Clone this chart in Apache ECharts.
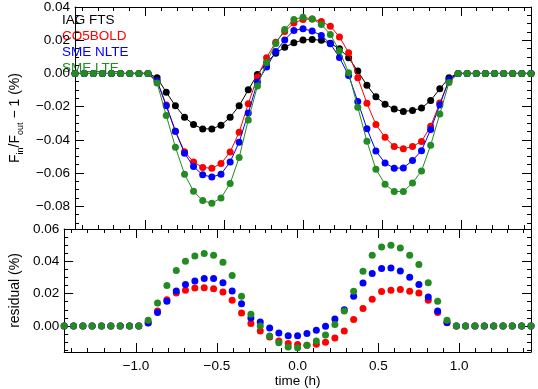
<!DOCTYPE html>
<html>
<head>
<meta charset="utf-8">
<script src="https://cdn.jsdelivr.net/npm/echarts@6/dist/echarts.min.js"></script>
<style>
  html, body { margin: 0; padding: 0; background: #fff; }
  #chart { width: 538px; height: 389px; }
</style>
</head>
<body>
<div id="chart"></div>
<script>
// time points (h)
const time = [-1.445, -1.387, -1.329, -1.272, -1.214, -1.156, -1.098, -1.040, -0.983, -0.925,
  -0.867, -0.809, -0.751, -0.694, -0.636, -0.578, -0.520, -0.462, -0.405, -0.347,
  -0.289, -0.231, -0.173, -0.116, -0.058, 0.0, 0.058, 0.116, 0.173, 0.231,
  0.289, 0.347, 0.405, 0.462, 0.520, 0.578, 0.636, 0.694, 0.751, 0.809,
  0.867, 0.925, 0.983, 1.040, 1.098, 1.156, 1.214, 1.272, 1.329, 1.387, 1.445]

// F_in/F_out - 1 (%)
const iagFts = [0, 0, 0, 0, 0, 0, 0, 0, 0, -0.0026,
  -0.0113, -0.0195, -0.0264, -0.0308, -0.0334, -0.0334, -0.0312, -0.0264, -0.0195, -0.0099,
  -0.0006, 0.0064, 0.0122, 0.0158, 0.0185, 0.0201, 0.0205, 0.0199, 0.0181, 0.0149,
  0.0094, 0.0014, -0.0072, -0.0141, -0.0185, -0.0215, -0.0229, -0.0223, -0.0209, -0.0163,
  -0.0093, -0.0026, 0, 0, 0, 0, 0, 0, 0, 0, 0]
const co5bold = [0, 0, 0, 0, 0, 0, 0, 0, 0, -0.0045,
  -0.0190, -0.0348, -0.0472, -0.0533, -0.0567, -0.0571, -0.0543, -0.0473, -0.0354, -0.0183,
  -0.0021, 0.0095, 0.0188, 0.0252, 0.0304, 0.0325, 0.0328, 0.0313, 0.0284, 0.0220,
  0.0125, -0.0026, -0.0180, -0.0308, -0.0385, -0.0440, -0.0454, -0.0440, -0.0410, -0.0318,
  -0.0178, -0.0046, 0, 0, 0, 0, 0, 0, 0, 0, 0]
const smeNlte = [0, 0, 0, 0, 0, 0, 0, 0, 0, -0.0045,
  -0.0195, -0.0348, -0.0481, -0.0561, -0.0611, -0.0624, -0.0607, -0.0533, -0.0414, -0.0239,
  -0.0052, 0.0038, 0.0132, 0.0202, 0.0259, 0.0269, 0.0255, 0.0229, 0.0179, 0.0096,
  -0.0012, -0.0169, -0.0333, -0.0467, -0.0540, -0.0571, -0.0569, -0.0524, -0.0465, -0.0338,
  -0.0190, -0.0038, 0, 0, 0, 0, 0, 0, 0, 0, 0]
const smeLte = [0, 0, 0, 0, 0, 0, 0, 0, 0, -0.0058,
  -0.0253, -0.0444, -0.0607, -0.0710, -0.0766, -0.0782, -0.0750, -0.0663, -0.0507, -0.0280,
  -0.0076, 0.0066, 0.0180, 0.0265, 0.0325, 0.0339, 0.0328, 0.0295, 0.0235, 0.0136,
  0.0004, -0.0204, -0.0409, -0.0577, -0.0668, -0.0711, -0.0711, -0.0660, -0.0587, -0.0432,
  -0.0245, -0.0055, 0, 0, 0, 0, 0, 0, 0, 0, 0]

// residual (%)
const resCo5bold = [0, 0, 0, 0, 0, 0, 0, 0, 0, 0.0020,
  0.0093, 0.0163, 0.0204, 0.0221, 0.0235, 0.0237, 0.0231, 0.0210, 0.0159, 0.0080,
  0.0015, -0.0031, -0.0068, -0.0093, -0.0109, -0.0115, -0.0119, -0.0113, -0.0101, -0.0074,
  -0.0031, 0.0040, 0.0108, 0.0165, 0.0213, 0.0221, 0.0225, 0.0215, 0.0204, 0.0159,
  0.0083, 0.0020, 0, 0, 0, 0, 0, 0, 0, 0, 0]
const resSmeNlte = [0, 0, 0, 0, 0, 0, 0, 0, 0, 0.0019,
  0.0083, 0.0153, 0.0217, 0.0256, 0.0278, 0.0293, 0.0293, 0.0268, 0.0217, 0.0138,
  0.0050, 0.0025, -0.0012, -0.0043, -0.0060, -0.0060, -0.0047, -0.0027, -0.0002, 0.0043,
  0.0101, 0.0184, 0.0266, 0.0324, 0.0355, 0.0359, 0.0340, 0.0301, 0.0256, 0.0179,
  0.0093, 0.0021, 0, 0, 0, 0, 0, 0, 0, 0, 0]
const resSmeLte = [0, 0, 0, 0, 0, 0, 0, 0, 0, 0.0035,
  0.0142, 0.0250, 0.0343, 0.0400, 0.0433, 0.0448, 0.0437, 0.0394, 0.0312, 0.0184,
  0.0072, 0.0000, -0.0062, -0.0103, -0.0130, -0.0134, -0.0119, -0.0093, -0.0056, 0.0009,
  0.0093, 0.0215, 0.0338, 0.0437, 0.0489, 0.0499, 0.0482, 0.0437, 0.0380, 0.0268,
  0.0153, 0.0035, 0, 0, 0, 0, 0, 0, 0, 0, 0]

const seriesNames = ['IAG FTS', 'CO5BOLD', 'SME NLTE', 'SME LTE']
const seriesColors = ['#000000', '#ff0000', '#0000ff', '#228b22']

const font = 'Liberation Sans, Arial, Helvetica, sans-serif'
const axisColor = '#000'

function fmt(v, d) {
  return v.toFixed(d).replace('-', '\u2212')
}

function makeX(gridIndex, position, labels) {
  return {
    type: 'value',
    gridIndex: gridIndex,
    position: position,
    min: -1.445,
    max: 1.445,
    splitNumber: 6,
    name: labels ? 'time (h)' : '',
    nameLocation: 'middle',
    nameGap: 22,
    nameTextStyle: { fontFamily: font, fontSize: 13.5, color: '#000' },
    axisLine: { show: true, onZero: false, lineStyle: { color: axisColor, width: 1 } },
    axisTick: { show: true, inside: true, length: 9, lineStyle: { color: axisColor } },
    minorTick: { show: true, splitNumber: 5, length: 4, lineStyle: { color: axisColor } },
    splitLine: { show: false },
    axisLabel: {
      show: !!labels,
      showMinLabel: false,
      showMaxLabel: false,
      margin: 7,
      fontFamily: font,
      fontSize: 13.5,
      color: '#000',
      formatter: v => fmt(v, 1)
    }
  }
}

function makeY(gridIndex, position, min, max, splitNumber, name, nameGap) {
  return {
    type: 'value',
    gridIndex: gridIndex,
    position: position,
    min: min,
    max: max,
    splitNumber: splitNumber,
    name: name || '',
    nameLocation: 'middle',
    nameGap: nameGap,
    nameRotate: 90,
    nameTextStyle: {
      fontFamily: font, fontSize: 14, color: '#000',
      rich: {
        a: { fontFamily: font, fontSize: 14, color: '#000', lineHeight: 20 },
        sub: { fontFamily: font, fontSize: 9, color: '#000', lineHeight: 9, verticalAlign: 'bottom' }
      }
    },
    axisLine: { show: true, onZero: false, lineStyle: { color: axisColor, width: 1 } },
    axisTick: { show: true, inside: true, length: 9, lineStyle: { color: axisColor } },
    minorTick: { show: true, splitNumber: 4, length: 4, lineStyle: { color: axisColor } },
    splitLine: { show: false },
    axisLabel: {
      show: position === 'left',
      showMinLabel: false,
      margin: 5,
      fontFamily: font,
      fontSize: 13.5,
      color: '#000',
      formatter: v => fmt(v, 2)
    }
  }
}

const topData = [iagFts, co5bold, smeNlte, smeLte]
const resData = [null, resCo5bold, resSmeNlte, resSmeLte]

const series = []
topData.forEach((arr, i) => {
  series.push({
    name: seriesNames[i],
    type: 'line',
    xAxisIndex: 0,
    yAxisIndex: 0,
    data: time.map((t, j) => [t, arr[j]]),
    symbol: 'circle',
    symbolSize: 7,
    showAllSymbol: true,
    clip: false,
    color: seriesColors[i],
    lineStyle: { width: 1, color: seriesColors[i] },
    itemStyle: { color: seriesColors[i], opacity: 1 },
    z: 2 + i
  })
})
resData.forEach((arr, i) => {
  if (!arr) return
  series.push({
    name: seriesNames[i] + ' residual',
    type: 'scatter',
    xAxisIndex: 2,
    yAxisIndex: 2,
    data: time.map((t, j) => [t, arr[j]]),
    symbol: 'circle',
    symbolSize: 7,
    clip: false,
    itemStyle: { color: seriesColors[i], opacity: 1 },
    z: 2 + i
  })
})

const chart = echarts.init(document.getElementById('chart'), null, { renderer: 'canvas' })
chart.setOption({
  animation: false,
  backgroundColor: '#fff',
  grid: [
    { left: 61, right: 7, top: 5, height: 224 },
    { left: 61, right: 7, top: 229, height: 123 }
  ],
  xAxis: [
    makeX(0, 'bottom', false),
    makeX(0, 'top', false),
    makeX(1, 'bottom', true),
    makeX(1, 'top', false)
  ],
  yAxis: [
    makeY(0, 'left', -0.0937, 0.04, 6, '{a|F}{sub|in}{a|/F}{sub|out}{a| \u2212 1 (%)}', 42),
    makeY(0, 'right', -0.0937, 0.04, 6, '', 0),
    makeY(1, 'left', -0.0161, 0.06, 4, 'residual (%)', 39),
    makeY(1, 'right', -0.0161, 0.06, 4, '', 0)
  ],
  graphic: seriesNames.map((n, i) => ({
    type: 'text',
    z: 0,
    x: 62,
    y: 20 + i * 16.1,
    style: {
      text: n,
      fill: seriesColors[i],
      font: '13.5px ' + font,
      align: 'left',
      verticalAlign: 'middle'
    }
  })),
  series: series
})
window.addEventListener('resize', () => {
  chart.resize()
})
</script>
</body>
</html>
